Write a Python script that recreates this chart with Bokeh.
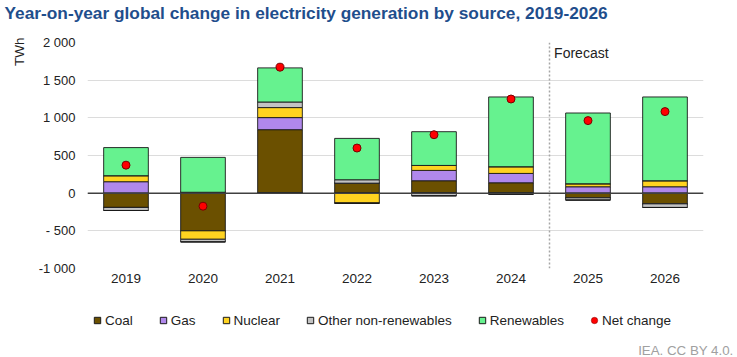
from bokeh.plotting import figure
from bokeh.layouts import column
from bokeh.models import (FactorRange, Range1d, Span, Label, Legend, LegendItem,
                          ColumnDataSource, FixedTicker, Title)
from bokeh.embed import file_html
from bokeh.resources import INLINE

years = ["2019", "2020", "2021", "2022", "2023", "2024", "2025", "2026"]
coal = [-190, -500, 843, 133, 165, 138, -62, -142]
gas = [152, 12, 160, 0, 137, 124, 85, 85]
nuclear = [80, -112, 133, -133, 66, 89, 40, 80]
other = [-40, -35, 74, 45, -35, -15, -30, -48]
renewables = [373, 463, 453, 549, 448, 926, 939, 1112]
net_change = [372, -173, 1672, 599, 776, 1250, 963, 1083]
forecast_start = "2025"

series_names = ["Coal", "Gas", "Nuclear", "Other non-renewables", "Renewables"]
series_vals = [coal, gas, nuclear, other, renewables]
colors = ["#6b5000", "#b088ec", "#ffd320", "#c3c3c3", "#66f28f"]
net_color = "#ff0000"

y_ticks = [-1000, -500, 0, 500, 1000, 1500, 2000]
y_tick_labels = ["-1 000", "- 500", "0", "500", "1 000", "1 500", "2 000"]

title_text = "Year-on-year global change in electricity generation by source, 2019-2026"
credit_text = "IEA. CC BY 4.0."

FONT = "Liberation Sans"
W = 737
H_TOP, H_MAIN, H_BOT = 26, 266, 65

# ---------- title strip ----------
top = figure(width=W, height=H_TOP, x_range=Range1d(0, 1), y_range=Range1d(0, 1),
             output_backend="svg", toolbar_location=None, min_border=0,
             x_axis_location=None, y_axis_location=None)
top.outline_line_color = None
top.grid.grid_line_color = None
top.add_layout(Title(text=title_text, align="left", offset=-83, standoff=4,
                     vertical_align="top",
                     text_font=FONT, text_font_size="17.3px", text_font_style="bold",
                     text_color="#1f4e8c"), "above")

# ---------- main chart ----------
data = {"x": years, "net": net_change}
pos_keys, neg_keys = [], []
for i, vals in enumerate(series_vals):
    pk, nk = f"p{i}", f"n{i}"
    data[pk] = [max(v, 0) for v in vals]
    data[nk] = [min(v, 0) for v in vals]
    pos_keys.append(pk)
    neg_keys.append(nk)
src = ColumnDataSource(data)

p = figure(width=W, height=H_MAIN, x_range=FactorRange(*years, range_padding=0),
           y_range=Range1d(-1000, 2000), output_backend="svg", toolbar_location=None,
           min_border_left=87, min_border_right=34, min_border_top=42 - H_TOP,
           min_border_bottom=H_TOP + H_MAIN - 268)
p.outline_line_color = None

p.xgrid.grid_line_color = None
p.ygrid.grid_line_color = "#dcdcdc"
p.ygrid.grid_line_width = 1
p.ygrid.ticker = FixedTicker(ticks=y_ticks)

p.yaxis.ticker = FixedTicker(ticks=y_ticks)
p.yaxis.major_label_overrides = {t: l for t, l in zip(y_ticks, y_tick_labels)}
for ax in (p.xaxis, p.yaxis):
    ax.axis_line_color = None
    ax.major_tick_line_color = None
    ax.minor_tick_line_color = None
    ax.major_tick_in = 0
    ax.major_tick_out = 0
    ax.major_label_text_font = FONT
    ax.major_label_text_color = "#222222"
p.yaxis.major_label_text_font_size = "13px"
p.xaxis.major_label_text_font_size = "13.5px"
p.yaxis.major_label_standoff = 12
p.xaxis.major_label_standoff = 5

pos_r = p.vbar_stack(pos_keys, x="x", width=0.58, source=src, color=colors,
                     line_color="#1a1a1a", line_width=1, line_alpha=0.9)
neg_r = p.vbar_stack(neg_keys, x="x", width=0.58, source=src, color=colors,
                     line_color="#1a1a1a", line_width=1, line_alpha=0.9)

p.add_layout(Span(location=0, dimension="width", line_color="#404040", line_width=1.5))
p.add_layout(Span(location=years.index(forecast_start), dimension="height",
                  line_color="#a6a6a6", line_width=1.5, line_dash="2 2"))

p.scatter(x="x", y="net", source=src, size=8, fill_color=net_color,
          line_color="#7a0000", line_width=1)

p.add_layout(Label(x=years.index(forecast_start) + 0.06, y=1865, text="Forecast",
                   text_font=FONT, text_font_size="14px", text_color="#222222",
                   text_baseline="middle"))

p.add_layout(Title(text="TWh", align="right", offset=-5, standoff=17,
                   text_font=FONT, text_font_size="13.5px", text_font_style="normal",
                   text_color="#222222"), "left")

# ---------- legend + credit strip ----------
bot = figure(width=W, height=H_BOT, x_range=Range1d(0, 1), y_range=Range1d(0, 1),
             output_backend="svg", toolbar_location=None, min_border=0,
             x_axis_location=None, y_axis_location=None)
bot.outline_line_color = None
bot.grid.grid_line_color = None

items = []
for n, c in zip(series_names, colors):
    r = bot.scatter(x=[-1], y=[-1], marker="square", fill_color=c,
                    line_color="#1a1a1a", line_width=1)
    items.append(LegendItem(label=n, renderers=[r]))
r = bot.scatter(x=[-1], y=[-1], marker="circle", fill_color=net_color,
                line_color="#7a0000", line_width=0.5)
items.append(LegendItem(label="Net change", renderers=[r]))

bot.add_layout(Title(text=credit_text, align="right", offset=-30, standoff=0,
                     text_font=FONT, text_font_size="13.3px", text_font_style="normal",
                     text_color="#a0a0a0"), "below")

legend = Legend(items=items, orientation="horizontal", location=(2, 12),
                label_text_font=FONT, label_text_font_size="13.5px", label_text_color="#222222",
                glyph_width=16, glyph_height=16, label_height=16, label_standoff=0, spacing=22,
                padding=0, margin=0, border_line_color=None, background_fill_alpha=0)
bot.add_layout(legend, "center")

layout = column(top, p, bot, spacing=0)
open("out.html", "w").write(file_html(layout, INLINE))
